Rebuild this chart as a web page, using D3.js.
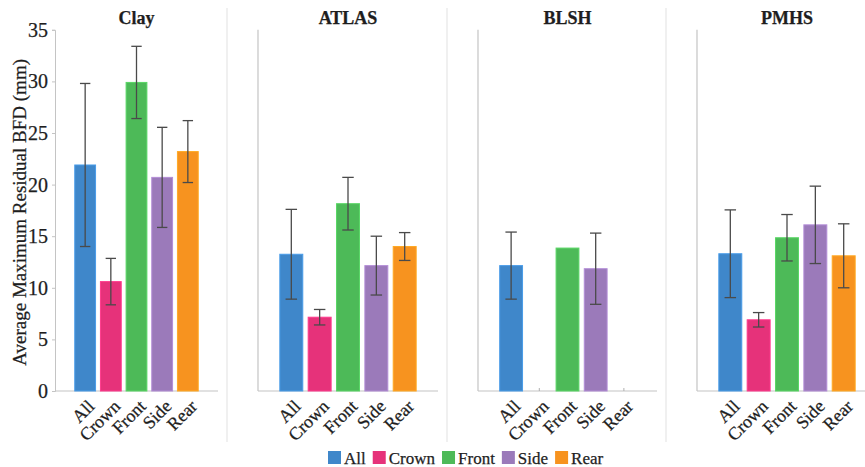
<!DOCTYPE html>
<html>
<head>
<meta charset="utf-8">
<script src="https://cdn.jsdelivr.net/npm/d3@7"></script>
<style>
  html, body { margin: 0; padding: 0; background: #fff; }
  svg { display: block; }
</style>
</head>
<body>
<svg id="chart" width="865" height="467"></svg>
<script>
// ---- data ----
const panels = ["Clay", "ATLAS", "BLSH", "PMHS"];
const categories = ["All", "Crown", "Front", "Side", "Rear"];
const colors = ["#3f87ca", "#e6327a", "#4dba58", "#9b7aba", "#f7931f"];
const clayMean  = [21.9, 10.6, 29.9, 20.7, 23.2];
const clayErr   = [7.9, 2.25, 3.5, 4.85, 3.0];
const atlasMean = [13.25, 7.15, 18.15, 12.15, 14.0];
const atlasErr  = [4.35, 0.75, 2.55, 2.85, 1.35];
const blshMean  = [12.15, null, 13.85, 11.85, null];
const blshErr   = [3.25, null, null, 3.45, null];
const pmhsMean  = [13.3, 6.9, 14.85, 16.1, 13.1];
const pmhsErr   = [4.25, 0.7, 2.25, 3.75, 3.1];
const yTicks = [0, 5, 10, 15, 20, 25, 30, 35];
const yTitle = "Average Maximum Residual BFD (mm)";

const means = [clayMean, atlasMean, blshMean, pmhsMean];
const errs  = [clayErr, atlasErr, blshErr, pmhsErr];

const FONT = "'Liberation Serif'";
const TXT = "#1e1e1e";

// ---- layout ----
const svg = d3.select("#chart");
const y = d3.scaleLinear().domain([0, 35]).range([391, 29.8]);
const layout = [
  { x0: 55,  x1: 218 },
  { x0: 258, x1: 438 },
  { x0: 478, x1: 657 },
  { x0: 697, x1: 877 }
];
const axisColor = "#c4c4c4";
const sepColor = "#e6e6e6";

function styleText(sel, size, weight) {
  return sel.style("font-family", FONT)
    .style("font-size", size + "px")
    .style("font-weight", weight || "normal")
    .attr("fill", TXT)
    .attr("stroke", TXT).attr("stroke-width", 0.25);
}

// panel separators
layout.slice(0, 3).forEach(l => {
  svg.append("line")
    .attr("x1", l.x1 + 9).attr("x2", l.x1 + 9)
    .attr("y1", 8).attr("y2", 442)
    .attr("stroke", sepColor).attr("stroke-width", 1.2);
});

panels.forEach((name, pi) => {
  const l = layout[pi];
  const g = svg.append("g");
  const x = d3.scaleBand().domain(categories).range([l.x0, l.x1])
    .paddingInner(0.19).paddingOuter(0.77);
  const bw = x.bandwidth();

  // axes lines
  if (pi === 0) {
    const ax = g.append("g").attr("transform", `translate(${l.x0},0)`)
      .call(d3.axisLeft(y).tickValues(yTicks).tickSize(3).tickPadding(4));
    ax.attr("font-family", null).attr("font-size", null);
    ax.select(".domain").attr("stroke", axisColor);
    ax.selectAll(".tick line").attr("stroke", axisColor);
    styleText(ax.selectAll(".tick text"), 20);
  } else {
    g.append("line")
      .attr("x1", l.x0).attr("x2", l.x0)
      .attr("y1", y(0)).attr("y2", y(35))
      .attr("stroke", axisColor).attr("stroke-width", 1.2);
  }
  g.append("line")
    .attr("x1", l.x0).attr("x2", l.x1)
    .attr("y1", y(0)).attr("y2", y(0))
    .attr("stroke", axisColor).attr("stroke-width", 1.2);

  // bars
  const data = categories.map((c, i) => ({ c, i, v: means[pi][i], e: errs[pi][i] }));
  g.selectAll("rect.bar").data(data.filter(d => d.v != null)).join("rect")
    .attr("class", "bar")
    .attr("x", d => x(d.c))
    .attr("width", bw)
    .attr("y", d => y(d.v))
    .attr("height", d => y(0) - y(d.v))
    .attr("fill", d => colors[d.i])
    .attr("stroke", d => d3.color(colors[d.i]).brighter(0.4))
    .attr("stroke-width", 1);

  // tiny baseline marks for empty categories
  g.selectAll("line.empty").data(data.filter(d => d.v == null)).join("line")
    .attr("class", "empty")
    .attr("x1", d => x(d.c) + bw / 2).attr("x2", d => x(d.c) + bw / 2)
    .attr("y1", y(0)).attr("y2", y(0) - 3)
    .attr("stroke", "#b0b0b0").attr("stroke-width", 1);

  // error bars
  const eb = data.filter(d => d.v != null && d.e != null);
  const cap = bw * 0.25;
  const eg = g.selectAll("g.err").data(eb).join("g").attr("class", "err")
    .attr("stroke", "#4a4a4a").attr("stroke-width", 1.3);
  eg.append("line")
    .attr("x1", d => x(d.c) + bw / 2).attr("x2", d => x(d.c) + bw / 2)
    .attr("y1", d => y(d.v + d.e)).attr("y2", d => y(d.v - d.e));
  eg.append("line")
    .attr("x1", d => x(d.c) + bw / 2 - cap).attr("x2", d => x(d.c) + bw / 2 + cap)
    .attr("y1", d => y(d.v + d.e)).attr("y2", d => y(d.v + d.e));
  eg.append("line")
    .attr("x1", d => x(d.c) + bw / 2 - cap).attr("x2", d => x(d.c) + bw / 2 + cap)
    .attr("y1", d => y(d.v - d.e)).attr("y2", d => y(d.v - d.e));

  // x tick labels
  styleText(g.selectAll("text.xl").data(categories).join("text")
    .attr("class", "xl")
    .attr("transform", c => `translate(${x(c) + bw / 2 + 6},${y(0) + 12}) rotate(-45)`)
    .attr("text-anchor", "end")
    .attr("dy", "0.35em")
    .text(c => c), 18);

  // title
  styleText(g.append("text")
    .attr("x", (l.x0 + l.x1) / 2)
    .attr("y", 24)
    .attr("text-anchor", "middle")
    .text(name), 18, "bold");
});

// y title
styleText(svg.append("text")
  .attr("transform", `translate(26,${(y(0) + y(35)) / 2 + 2}) rotate(-90)`)
  .attr("text-anchor", "middle")
  .text(yTitle), 19);

// legend
const lg = svg.append("g");
let lx = 328;
categories.forEach((c, i) => {
  lg.append("rect").attr("x", lx).attr("y", 451).attr("width", 13).attr("height", 13)
    .attr("fill", colors[i]);
  const t = styleText(lg.append("text").attr("x", lx + 16).attr("y", 464).text(c), 17);
  lx += 16 + t.node().getComputedTextLength() + 7;
});
</script>
</body>
</html>
